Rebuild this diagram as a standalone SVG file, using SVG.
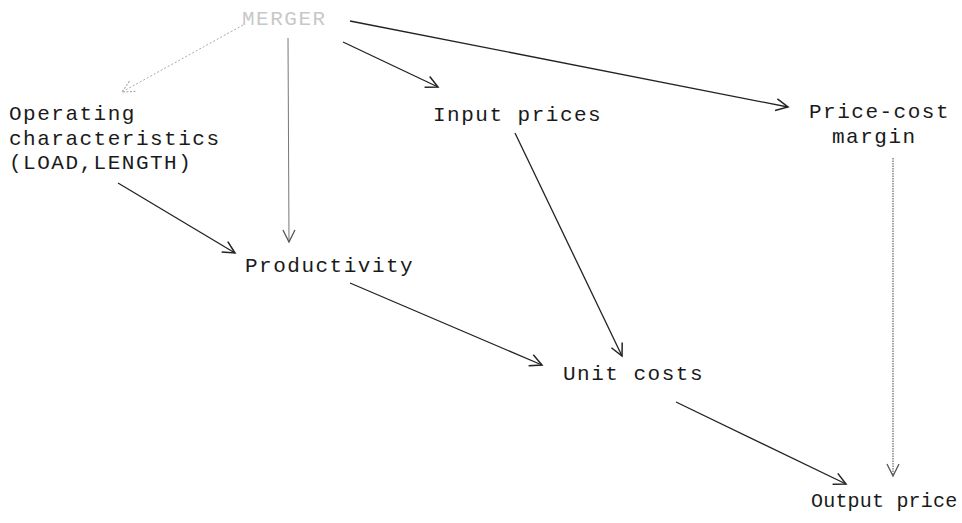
<svg xmlns="http://www.w3.org/2000/svg" width="962" height="523" viewBox="0 0 962 523">
<style>
text{font-family:"Liberation Mono","Courier New",monospace;font-size:21px;letter-spacing:1.5px;fill:#1a1a1a}
.faint{fill:#c8c8c8}
.c{stroke:#222;stroke-width:1.3;fill:none}
.g{stroke:#777;stroke-width:1;fill:none}
.d{stroke:#aaa;stroke-width:1;stroke-dasharray:2 2;fill:none}
.dv{stroke:#666;stroke-width:1.2;stroke-dasharray:1.5 1;fill:none}
</style>
<defs>
<marker id="ah" viewBox="-14 -8 16 16" markerWidth="16" markerHeight="16" refX="0" refY="0" orient="auto" markerUnits="userSpaceOnUse">
<path d="M-12,-6 L0,0 L-12,6" fill="none" stroke="#222" stroke-width="1.5"/>
</marker>
<marker id="ahg" viewBox="-14 -8 16 16" markerWidth="16" markerHeight="16" refX="0" refY="0" orient="auto" markerUnits="userSpaceOnUse">
<path d="M-12,-6 L0,0 L-12,6" fill="none" stroke="#555" stroke-width="1.3"/>
</marker>
<marker id="ahf" viewBox="-14 -8 16 16" markerWidth="16" markerHeight="16" refX="0" refY="0" orient="auto" markerUnits="userSpaceOnUse">
<path d="M-12,-6 L0,0 L-12,6" fill="none" stroke="#aaa" stroke-width="1.2" stroke-dasharray="2 1.5"/>
</marker>
</defs>
<g id="connectors">
<line class="d" x1="243" y1="25" x2="122" y2="92" marker-end="url(#ahf)"/>
<line class="g" x1="288" y1="38" x2="289" y2="242" marker-end="url(#ahg)"/>
<line class="c" x1="343" y1="42" x2="438" y2="87" marker-end="url(#ah)"/>
<line class="c" x1="350" y1="21" x2="788" y2="107" marker-end="url(#ah)"/>
<line class="c" x1="118" y1="183" x2="235" y2="253" marker-end="url(#ah)"/>
<line class="c" x1="350" y1="283" x2="542" y2="365" marker-end="url(#ah)"/>
<line class="c" x1="515" y1="133" x2="622" y2="356" marker-end="url(#ah)"/>
<line class="c" x1="676" y1="402" x2="846" y2="484" marker-end="url(#ah)"/>
<line class="dv" x1="893" y1="158" x2="893" y2="476" marker-end="url(#ahg)"/>
</g>
<g id="merger"><text class="faint" x="242" y="25">MERGER</text></g>
<g id="operating"><text x="9" y="120">Operating</text><text x="9" y="145">characteristics</text><text x="9" y="169">(LOAD,LENGTH)</text></g>
<g id="input-prices"><text x="433" y="121">Input prices</text></g>
<g id="price-cost"><text x="809" y="118">Price-cost</text><text x="832" y="143">margin</text></g>
<g id="productivity"><text x="245" y="272">Productivity</text></g>
<g id="unit-costs"><text x="563" y="380">Unit costs</text></g>
<g id="output-price"><text x="811" y="507" style="font-size:20px;letter-spacing:0.2px">Output price</text></g>
</svg>
